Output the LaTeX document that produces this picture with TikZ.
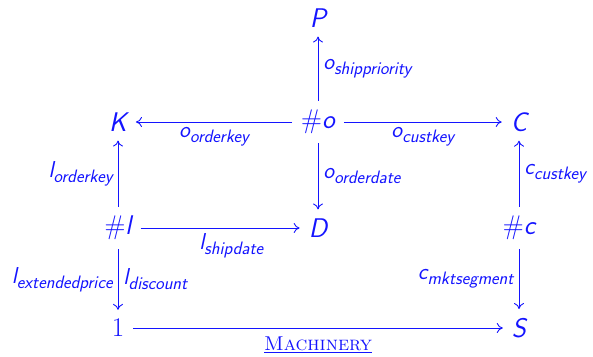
\documentclass[tikz,border=0pt]{standalone}
\usepackage{fontspec}
\usetikzlibrary{arrows.meta}
\definecolor{ink}{RGB}{20,20,255}
% variable names in slanted sans, attributes with a lowered subscript
\newcommand\vname[1]{{\sffamily\itshape #1}}
\newcommand\attr[2]{{\sffamily\itshape #1\raisebox{-0.22em}{\fontsize{18}{18}\selectfont #2}}}
\begin{document}
\begin{tikzpicture}[x=1pt,y=-1pt,
  every node/.style={text=ink},
  obj/.style={font=\fontsize{27}{30}\selectfont, inner sep=9pt},
  lab/.style={font=\fontsize{23}{25}\selectfont, inner sep=5pt},
  arr/.style={draw=ink, -{To[length=6pt,width=10pt]}, line width=0.9pt}]
\useasboundingbox (0,0) rectangle (593,356);

% objects
\node[obj] (P)   at (318,18)  {\vname{P}};
\node[obj] (o)   at (318,122) {\#\vname{o}};
\node[obj] (K)   at (118,122) {\vname{K}};
\node[obj] (C)   at (519,122) {\vname{C}};
\node[obj] (D)   at (318,228) {\vname{D}};
\node[obj] (l)   at (118,228) {\#\vname{l}};
\node[obj] (c)   at (519,228) {\#\vname{c}};
\node[obj] (one) at (118,328) {1};
\node[obj] (S)   at (519,328) {\vname{S}};

% arrows
\draw[arr] (o) -- node[lab, right] {\attr{o}{shippriority}} (P);
\draw[arr] (o) -- node[lab, below] {\attr{o}{orderkey}} (K);
\draw[arr] (o) -- node[lab, below] {\attr{o}{custkey}} (C);
\draw[arr] (o) -- node[lab, right] {\attr{o}{orderdate}} (D);
\draw[arr] (l) -- node[lab, left] {\attr{l}{orderkey}} (K);
\draw[arr] (l) -- node[lab, below, pos=0.57] {\attr{l}{shipdate}} (D);
\draw[arr] (l) -- node[lab, left] {\attr{l}{extendedprice}}
                  node[lab, right] {\attr{l}{discount}} (one);
\draw[arr] (c) -- node[lab, right] {\attr{c}{custkey}} (C);
\draw[arr] (c) -- node[lab, left] {\attr{c}{mktsegment}} (S);
\draw[arr] (one) -- node[below, inner sep=8pt, font=\fontsize{20}{22}\selectfont]
  {\underline{\textsc{Machinery}}} (S);
\end{tikzpicture}
\end{document}
